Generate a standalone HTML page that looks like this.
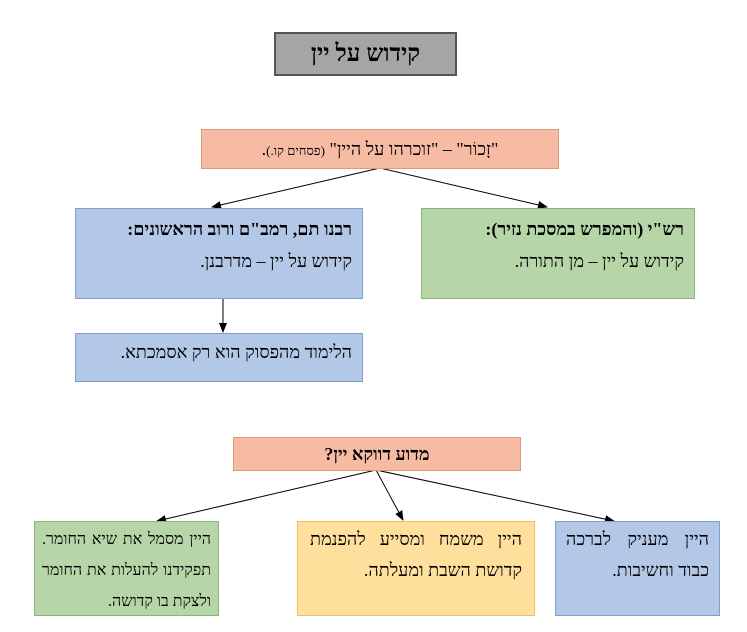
<!DOCTYPE html>
<html><head><meta charset="utf-8"><style>
body{margin:0;width:747px;height:632px;background:#fff;position:relative;font-family:"Liberation Serif","DejaVu Serif",serif;overflow:hidden}
.b{position:absolute;box-sizing:border-box;direction:rtl;font-size:18px;color:#000}
.s{background:#f7bba3;border:1px solid #d99b80;text-align:center}
.bl{background:#b3c8e7;border:1px solid #7e9fcf;padding:6px 10px}
.g{background:#b6d6a7;border:1px solid #88b578;padding:6px 10px}
.y{background:#fedf9c;border:1px solid #e8c25e;padding:6px 10px}
p{margin:0;white-space:nowrap}
.j{text-align:justify;text-align-last:justify}
</style></head><body>
<svg width="747" height="632" style="position:absolute;left:0;top:0">
<defs><marker id="a" markerWidth="10" markerHeight="8" refX="9" refY="4" orient="auto" markerUnits="userSpaceOnUse"><path d="M0,0L10,4L0,8z" fill="#000"/></marker></defs>
<g stroke="#000" stroke-width="1" marker-end="url(#a)">
<line x1="380" y1="168" x2="212" y2="207"/>
<line x1="380" y1="168" x2="547" y2="207"/>
<line x1="223" y1="298" x2="223" y2="332"/>
<line x1="376" y1="470" x2="157" y2="521"/>
<line x1="376" y1="470" x2="403" y2="520"/>
<line x1="376" y1="470" x2="614" y2="521"/>
</g></svg>
<div class="b" style="left:274px;top:32px;width:183px;height:44px;background:#a5a5a5;border:2px solid #555;text-align:center;font-size:24px;font-weight:bold;line-height:40px">קידוש על יין</div>
<div class="b s" style="left:201px;top:129px;width:358px;height:40px;line-height:38px">"זָכוֹר" – "זוכרהו על היין" <span style="font-size:13px">(פסחים קו.)</span>.</div>
<div class="b bl" style="left:75px;top:208px;width:288px;height:91px;line-height:32px;padding-top:4px"><p><b>רבנו תם, רמב"ם ורוב הראשונים:</b></p><p>קידוש על יין – מדרבנן.</p></div>
<div class="b g" style="left:421px;top:208px;width:274px;height:91px;line-height:32px;padding-top:4px"><p><b>רש"י (והמפרש במסכת נזיר):</b></p><p>קידוש על יין – מן התורה.</p></div>
<div class="b bl" style="left:75px;top:333px;width:288px;height:49px;line-height:32px;padding-top:2px">הלימוד מהפסוק הוא רק אסמכתא.</div>
<div class="b s" style="left:233px;top:437px;width:288px;height:34px;line-height:32px;font-weight:bold">מדוע דווקא יין?</div>
<div class="b g" style="left:34px;top:521px;width:185px;height:95px;line-height:31px;padding:2px 7px;font-size:16px"><p class="j">היין מסמל את שיא החומר.</p><p class="j">תפקידנו להעלות את החומר</p><p>ולצקת בו קדושה.</p></div>
<div class="b y" style="left:297px;top:521px;width:238px;height:95px;line-height:31px;padding:2px 12px"><p class="j">היין משמח ומסייע להפנמת</p><p>קדושת השבת ומעלתה.</p></div>
<div class="b bl" style="left:555px;top:521px;width:165px;height:95px;line-height:31px;padding:2px 10px"><p class="j">היין מעניק לברכה</p><p>כבוד וחשיבות.</p></div>
</body></html>
